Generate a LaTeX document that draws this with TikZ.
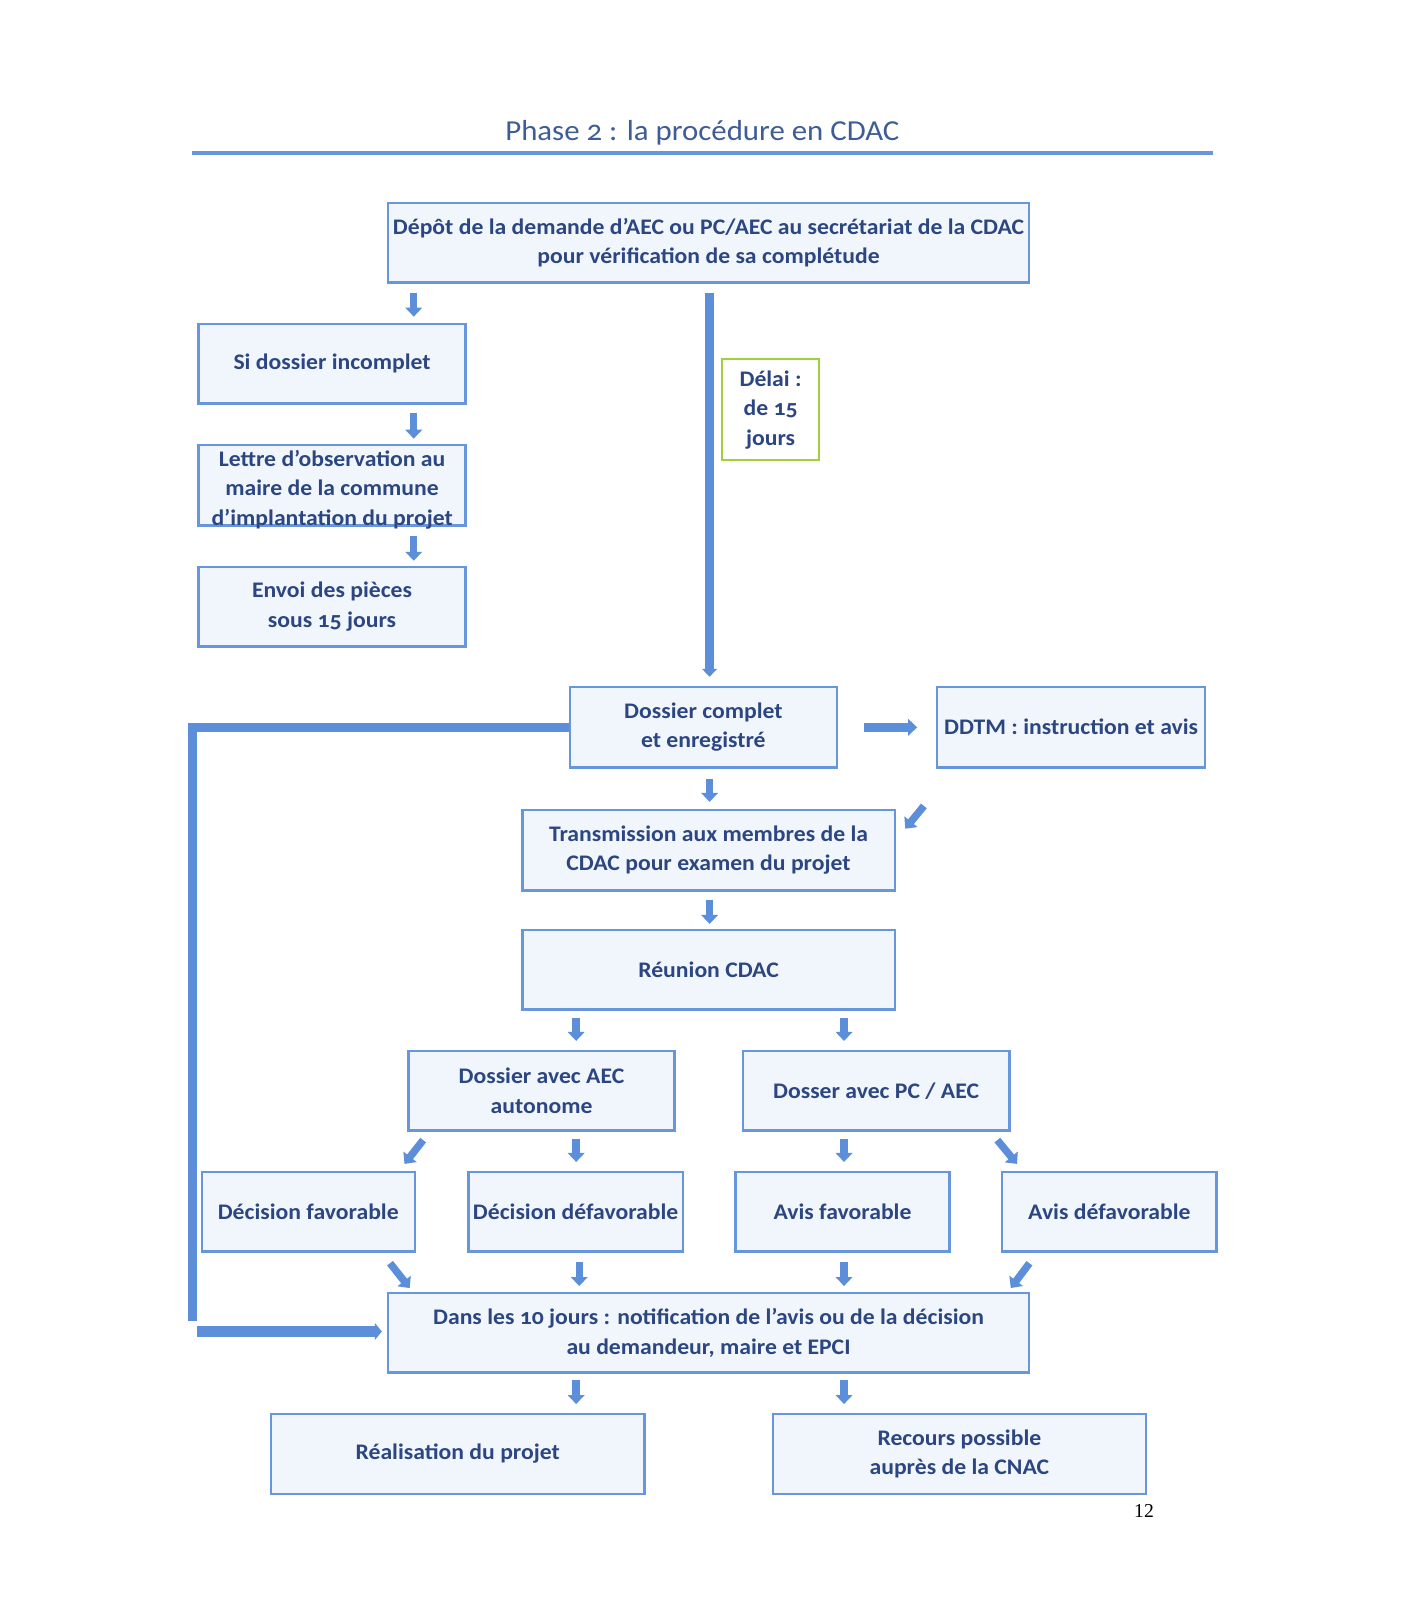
\documentclass[tikz,border=0pt]{standalone}
\usepackage{fontspec}
\setmainfont{Carlito}[Numbers=OldStyle,FakeStretch=1.065]
\newfontfamily\pnumfont{Liberation Serif}
\usetikzlibrary{arrows.meta}
\definecolor{boxline}{RGB}{104,150,220}
\definecolor{boxfill}{RGB}{241,246,253}
\definecolor{arrowc}{RGB}{92,142,218}
\definecolor{textc}{RGB}{44,70,130}
\definecolor{titlec}{RGB}{62,92,150}
\definecolor{greenline}{RGB}{160,208,60}
\tikzset{
  box/.style={draw=boxline, line width=2.3pt, fill=boxfill, inner sep=2pt, align=center, text=textc,
    font={\fontsize{21.5}{28.5}\selectfont\bfseries}},
  txt/.style={inner sep=0pt, align=center, text=textc, font={\fontsize{21.5}{28.5}\selectfont\bfseries}},
  blk/.style={draw=arrowc, line width=7.4pt, -{Triangle[width=16.5pt,length=9pt]}},
  bigline/.style={draw=arrowc, line width=9.5pt},
}
\begin{document}
\begin{tikzpicture}[x=1pt,y=-1pt,scale=1.0344, every node/.append style={transform shape}]
\useasboundingbox (0,0) rectangle (1365,1565.2);
% title
\node[text=titlec, font={\fontsize{28}{33}\selectfont}] (title) at (679,128) {Phase 2 : la procédure en CDAC};
\coordinate (tl) at (186,148);
\coordinate (tr0) at (1172,148);
\draw[draw=boxline, line width=4pt] (tl) -- (tr0);
% nodes
\node[box, minimum width=620, minimum height=77] (A) at (685,234.5) {Dépôt de la demande d’AEC ou PC/AEC au secrétariat de la CDAC\\pour vérification de sa complétude};
\node[box, minimum width=258, minimum height=77] (inc) at (321,351.5) {Si dossier incomplet};
\node[box, minimum width=258, minimum height=78] (let) at (321,469) {};
\node[txt] (lettxt) at ([yshift=-4]let.center) {Lettre d’observation au\\maire de la commune\\d’implantation du projet};
\node[box, minimum width=258, minimum height=77] (env) at (321,586.5) {Envoi des pièces\\sous 15 jours};
\node[box, draw=greenline, fill=white, minimum width=94, minimum height=98] (delai) at (745,396) {Délai :\\de 15\\jours};
\node[box, minimum width=258, minimum height=78] (dc) at (680,703) {Dossier complet\\et enregistré};
\node[box, minimum width=259, minimum height=78] (ddtm) at (1035.5,703) {DDTM : instruction et avis};
\node[box, minimum width=360, minimum height=78] (tr) at (685,822) {Transmission aux membres de la\\CDAC pour examen du projet};
\node[box, minimum width=360, minimum height=77] (reu) at (685,937.5) {Réunion CDAC};
\node[box, minimum width=257, minimum height=77] (aec) at (523.5,1054.5) {Dossier avec AEC\\autonome};
\node[box, minimum width=258, minimum height=77] (pc) at (847,1054.5) {Dosser avec PC / AEC};
\node[box, minimum width=206, minimum height=77] (df) at (298,1171.5) {Décision favorable};
\node[box, minimum width=207, minimum height=77] (dd) at (556.5,1171.5) {Décision défavorable};
\node[box, minimum width=207, minimum height=77] (af) at (814.5,1171.5) {Avis favorable};
\node[box, minimum width=207, minimum height=77] (ad) at (1072.5,1171.5) {Avis défavorable};
\node[box, minimum width=620, minimum height=77] (dans) at (685,1288.5) {Dans les 10 jours : notification de l’avis ou de la décision\\au demandeur, maire et EPCI};
\node[box, minimum width=361, minimum height=77] (real) at (442.5,1405.5) {Réalisation du projet};
\node[box, minimum width=361, minimum height=77] (rec) at (927.5,1405.5) {Recours possible\\auprès de la CNAC};
\node[font={\pnumfont\fontsize{19}{23}\selectfont}] (pnum) at (1106,1461) {12};
% vertical short arrows
\draw[blk, shorten <=9pt, shorten >=6pt] (400,0 |- A.south) -- (400,0 |- inc.north);
\draw[blk, shorten <=8pt, shorten >=5pt] (400,0 |- inc.south) -- (400,0 |- let.north);
\draw[blk, shorten <=9pt, shorten >=5pt] (400,0 |- let.south) -- (400,0 |- env.north);
\draw[bigline, -{Triangle[width=15pt,length=8pt]}, shorten <=9pt, shorten >=9pt] (686,0 |- A.south) -- (686,0 |- dc.north);
\draw[blk, line width=9pt, shorten <=26pt, shorten >=19pt] (dc.east) -- (ddtm.west);
\draw[blk, shorten <=10pt, shorten >=7pt] (686,0 |- dc.south) -- (686,0 |- tr.north);
\draw[blk, shorten <=8pt, shorten >=5pt] (686,0 |- tr.south) -- (686,0 |- reu.north);
\draw[blk, shorten <=7pt, shorten >=9pt] (557,0 |- reu.south) -- (557,0 |- aec.north);
\draw[blk, shorten <=7pt, shorten >=9pt] (816,0 |- reu.south) -- (816,0 |- pc.north);
\draw[blk, shorten <=7pt, shorten >=9pt] (557,0 |- aec.south) -- (557,0 |- dd.north);
\draw[blk, shorten <=7pt, shorten >=9pt] (816,0 |- pc.south) -- (816,0 |- af.north);
\draw[blk, shorten <=9pt, shorten >=6pt] (560,0 |- dd.south) -- (560,0 |- dans.north);
\draw[blk, shorten <=9pt, shorten >=6pt] (816,0 |- af.south) -- (816,0 |- dans.north);
\draw[blk, shorten <=6pt, shorten >=9pt] (557,0 |- dans.south) -- (557,0 |- real.north);
\draw[blk, shorten <=6pt, shorten >=9pt] (816,0 |- dans.south) -- (816,0 |- rec.north);
% diagonal arrows
\coordinate (d1s) at (893,779); \coordinate (d1e) at (875,801);
\draw[blk] (d1s) -- (d1e);
\coordinate (d2s) at (409,1102); \coordinate (d2e) at (391,1125);
\draw[blk] (d2s) -- (d2e);
\coordinate (d3s) at (964,1102); \coordinate (d3e) at (983,1125);
\draw[blk] (d3s) -- (d3e);
\coordinate (d4s) at (377,1221); \coordinate (d4e) at (396,1245);
\draw[blk] (d4s) -- (d4e);
\coordinate (d5s) at (995,1221); \coordinate (d5e) at (977,1245);
\draw[blk] (d5s) -- (d5e);
% loop
\coordinate (lc) at (186,703);
\coordinate (lb) at (186,1277);
\coordinate (la) at (190,1287);
\draw[bigline] (dc.west) -- (lc) -- (lb);
\draw[blk, line width=10.5pt, -{Triangle[width=17pt,length=7pt]}, shorten >=5pt] (la) -- (dans.west |- la);
\end{tikzpicture}
\end{document}
